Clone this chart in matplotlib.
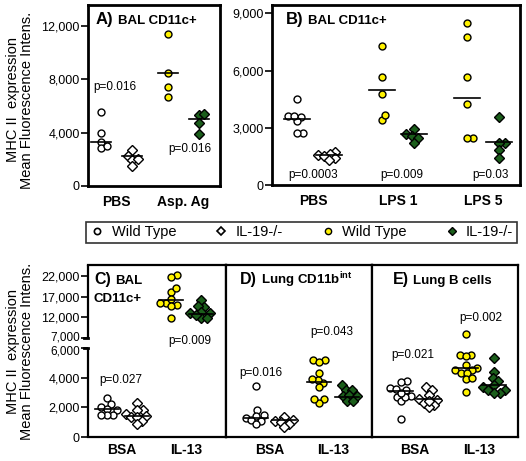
import numpy as np
import matplotlib
matplotlib.use('Agg')
import matplotlib.pyplot as plt
import matplotlib.transforms as mtransforms
from matplotlib.lines import Line2D
from matplotlib.ticker import FuncFormatter

plt.rcParams['font.family'] = ['Liberation Sans', 'DejaVu Sans']
plt.rcParams['mathtext.fontset'] = 'custom'
plt.rcParams['mathtext.rm'] = 'Liberation Sans'

W, H = 526, 461
YELLOW = '#fff200'
GREEN = '#1b5e1b'

# ---- data ----
a_groups = ['PBS', 'Asp. Ag']
a_wt = [[5550, 4000, 3300, 2850, 3000], [11380, 8500, 7400, 6700]]
a_ko = [[2700, 2250, 1950, 2000, 1500], [5320, 5400, 4750, 3870]]
a_wt_line = [3300, 8500]
a_ko_line = [2250, 5000]

b_groups = ['PBS', 'LPS 1', 'LPS 5']
b_wt = [[4490, 3580, 3620, 3350, 3620, 2710, 2710],
        [7300, 5650, 4770, 3400, 3670],
        [8480, 7780, 5680, 4250, 2450, 2450]]
b_ko = [[1750, 1650, 1570, 1500, 1400, 1300],
        [2950, 2650, 2550, 2450, 2200],
        [3580, 2220, 2220, 1830, 1430]]
b_wt_line = [3440, 4980, 4550]
b_ko_line = [1570, 2650, 2240]

c_groups = ['BSA', 'IL-13']
c_wt = [[2600, 2200, 2000, 1900, 1800, 1500, 1450, 1500],
        [22240, 21690, 18200, 19020, 15540, 16360, 14980, 15540, 14740, 11770]]
c_ko = [[2300, 1850, 1800, 1550, 1400, 1350, 1350, 1100, 850],
        [16200, 14600, 14800, 13000, 13400, 13000, 11800, 11800, 12600]]
c_wt_line = [1890, 16190]
c_ko_line = [1440, 12740]

d_groups = ['BSA', 'IL-13']
d_wt = [[3450, 1800, 1450, 1400, 1250, 1150, 1100, 900],
        [5200, 5200, 5050, 4300, 3650, 3850, 3900, 3350, 2550, 2300, 2550]]
d_ko = [[1350, 1150, 1050, 1000, 850, 650],
        [3500, 3200, 3200, 2750, 2850, 2750, 2450, 2450]]
d_wt_line = [1260, 3730]
d_ko_line = [1150, 2720]

e_groups = ['BSA', 'IL-13']
e_wt = [[3750, 3700, 3300, 3150, 3250, 2700, 2750, 2400, 2700, 1200, 3000],
        [6950, 5550, 5550, 5450, 4850, 4650, 4500, 4500, 4300, 4300, 3900, 3950, 3050]]
e_ko = [[3350, 3200, 2850, 2550, 2500, 2300, 2150, 2050, 2450],
        [5300, 4400, 3950, 3750, 3500, 3350, 3200, 3200, 3000, 3000]]
e_wt_line = [3120, 4630]
e_ko_line = [2560, 3510]

a_pvals = ['p=0.016', 'p=0.016']
b_pvals = ['p=0.0003', 'p=0.009', 'p=0.03']
c_pvals = ['p=0.027', 'p=0.009']
d_pvals = ['p=0.016', 'p=0.043']
e_pvals = ['p=0.021', 'p=0.002']

legend_labels = ['Wild Type', 'IL-19-/-', 'Wild Type', 'IL-19-/-']


# broken y scale for panel C
G = 0.674      # 6000-7000 gap
R = 0.2787     # upper part compression


def fwd(v):
    v = np.asarray(v, dtype=float)
    return np.where(v <= 6000, v,
                    np.where(v <= 7000, 6000 + (v - 6000) * G,
                             6000 + 1000 * G + (v - 7000) * R))


def inv(u):
    u = np.asarray(u, dtype=float)
    return np.where(u <= 6000, u,
                    np.where(u <= 6000 + 1000 * G, 6000 + (u - 6000) / G,
                             7000 + (u - 6000 - 1000 * G) / R))


def swarm_offsets(ypx, d):
    xs = np.zeros(len(ypx))
    placed = []
    for i in np.argsort(ypx):
        y = ypx[i]
        cands = [0.0]
        for px, py in placed:
            dy = abs(py - y)
            if dy < d:
                dx = np.sqrt(d * d - dy * dy)
                cands += [px + dx, px - dx]
        cands.sort(key=abs)
        for c in cands:
            if all((c - px) ** 2 + (y - py) ** 2 >= d * d - 1e-6 for px, py in placed):
                xs[i] = c
                break
        placed.append((xs[i], y))
    return xs


def draw_sub(ax, xc, shift, vals, line, marker, face, ms, d, halfw):
    vals = np.asarray(vals, dtype=float)
    cx, _ = ax.transData.transform((xc, vals[0]))
    cx += shift
    ypx = np.array([ax.transData.transform((xc, v))[1] for v in vals])
    xs = swarm_offsets(ypx, d)
    invt = ax.transData.inverted()
    xd = [invt.transform((cx + dx, y))[0] for dx, y in zip(xs, ypx)]
    ax.plot(xd, vals, ls='none', marker=marker, mfc=face, mec='k', ms=ms,
            mew=1.0, zorder=3, clip_on=False)
    ly = ax.transData.transform((xc, line))[1]
    x0 = invt.transform((cx - halfw, ly))[0]
    x1 = invt.transform((cx + halfw, ly))[0]
    ax.plot([x0, x1], [line, line], color='k', lw=1.2, zorder=4)


def make_axes(l, t, r, b):
    return fig.add_axes([l / W, 1 - b / H, (r - l) / W, (b - t) / H])


def ftext(x, y, s, **kw):
    return fig.text(x / W, 1 - y / H, s, **kw)


def title(x, y, letter, rest, big=12, small=9.5):
    t = ftext(x, y, letter, fontsize=big, fontweight='bold', va='baseline')
    bb = t.get_window_extent(renderer=fig.canvas.get_renderer())
    ftext(bb.x1 + 4, y, rest, fontsize=small, fontweight='bold', va='baseline')


fig = plt.figure(figsize=(W / 100, H / 100), dpi=100)

panels = [
    dict(rect=(88, 5, 220, 186), xlim=(0.571, 2.556), ylim=(0, 13575),
         ticks=[0, 4000, 8000, 12000], groups=a_groups, wt=a_wt, ko=a_ko,
         wl=a_wt_line, kl=a_ko_line, lw=2.0, pad=6.5, shift=15.5, hw=10),
    dict(rect=(272, 5, 520, 185), xlim=(0.518, 3.435), ylim=(0, 9439),
         ticks=[0, 3000, 6000, 9000], groups=b_groups, wt=b_wt, ko=b_ko,
         wl=b_wt_line, kl=b_ko_line, lw=2.0, pad=6.5, shift=16, hw=13),
    dict(rect=(88, 265, 226, 437), xlim=(0.469, 2.625), ylim=(0, 24660),
         ticks=[0, 2000, 4000, 6000, 7000, 12000, 17000, 22000], groups=c_groups,
         wt=c_wt, ko=c_ko, wl=c_wt_line, kl=c_ko_line, lw=1.6, pad=4.3, shift=15, hw=12),
    dict(rect=(226, 265, 372, 437), xlim=(0.30, 2.62), ylim=(0, 11596),
         ticks=[], groups=d_groups, wt=d_wt, ko=d_ko,
         wl=d_wt_line, kl=d_ko_line, lw=1.6, pad=4.3, shift=14, hw=12),
    dict(rect=(372, 265, 518, 437), xlim=(0.346, 2.59), ylim=(0, 11596),
         ticks=[], groups=e_groups, wt=e_wt, ko=e_ko,
         wl=e_wt_line, kl=e_ko_line, lw=1.6, pad=4.3, shift=14, hw=12),
]

axes = []
for k, p in enumerate(panels):
    ax = make_axes(*p['rect'])
    axes.append(ax)
    if k == 2:
        ax.set_yscale('function', functions=(fwd, inv))
    ax.set_xlim(*p['xlim'])
    ax.set_ylim(*p['ylim'])
    for s in ax.spines.values():
        s.set_linewidth(p['lw'])
    pos = np.arange(1, len(p['groups']) + 1)
    ax.set_xticks(pos, p['groups'], fontsize=10, fontweight='bold')
    ax.tick_params(axis='x', length=0, pad=p['pad'])
    if p['ticks']:
        ax.set_yticks(p['ticks'])
        ax.yaxis.set_major_formatter(FuncFormatter(lambda v, q: f'{v:,.0f}'))
        ax.tick_params(axis='y', length=5, width=1.2, pad=1, labelsize=9)
    else:
        ax.set_yticks([])
    for i, xc in enumerate(pos):
        filled = i > 0
        draw_sub(ax, xc, -p['shift'], p['wt'][i], p['wl'][i], 'o',
                 YELLOW if filled else 'white', 5.0, 6.0, p['hw'])
        draw_sub(ax, xc, p['shift'], p['ko'][i], p['kl'][i], 'D',
                 GREEN if filled else 'white', 5.0, 6.0, p['hw'])

# axis break on panel C
axc = axes[2]
axc.spines['left'].set_visible(False)
yt = axc.get_yaxis_transform()
axc.plot([0, 0], [0, 6000], transform=yt, color='k', lw=1.6, clip_on=False,
         solid_capstyle='butt')
axc.plot([0, 0], [7000, 24660], transform=yt, color='k', lw=1.6, clip_on=False,
         solid_capstyle='butt')
axc.plot([-0.03, 0], [6000, 6000], transform=yt, color='k', lw=2.0, clip_on=False)
axc.plot([-0.03, 0], [7000, 7000], transform=yt, color='k', lw=2.0, clip_on=False)
# nudge the two labels at the break apart
fig.canvas.draw()
for lab in axc.get_yticklabels():
    txt = lab.get_text()
    if txt in ('7,000', '6,000'):
        dy = 2.0 if txt == '7,000' else -2.0
        lab.set_transform(lab.get_transform() +
                          mtransforms.ScaledTranslation(0, dy / 100, fig.dpi_scale_trans))
        lab.set_fontsize(8.5)

# titles
title(96, 24, 'A)', 'BAL CD11c+')
title(286, 24, 'B)', 'BAL CD11c+')
title(94, 284, 'C)', 'BAL', big=11.5)
ftext(93, 301.5, 'CD11c+', fontsize=9.5, fontweight='bold', va='baseline')
title(240, 284, 'D)', r'Lung CD11b$^{\mathregular{int}}$', big=11.5)
title(393, 284, 'E)', 'Lung B cells', big=11.5)

# p-values
pv_pos = [(115, 87), (190, 149), (313, 175), (401.7, 175), (490, 175),
          (121, 380), (190, 341), (261, 372.7), (331.7, 331.7), (413, 355), (481, 318.3)]
for (x, y), s in zip(pv_pos, a_pvals + b_pvals + c_pvals + d_pvals + e_pvals):
    ftext(x, y, s, fontsize=8.5, ha='center', va='center')

# y labels
for yc in (100, 351):
    ftext(13, yc, 'MHC II  expression', fontsize=10.5, rotation=90, ha='center', va='center')
    ftext(27, yc, 'Mean Fluorescence Intens.', fontsize=10.5, rotation=90,
          ha='center', va='center')

# legend
handles = [
    Line2D([], [], ls='none', marker='o', mfc='white', mec='k', ms=4.5, mew=1.2),
    Line2D([], [], ls='none', marker='D', mfc='white', mec='k', ms=4, mew=1.2),
    Line2D([], [], ls='none', marker='o', mfc=YELLOW, mec='k', ms=4.5, mew=1.0),
    Line2D([], [], ls='none', marker='D', mfc=GREEN, mec='k', ms=4, mew=1.0),
]
leg = fig.legend(handles, legend_labels, loc='lower left',
                 bbox_to_anchor=(86 / W, 1 - 243 / H, 431 / W, 22 / H),
                 mode='expand', ncol=4, frameon=True, fancybox=False,
                 edgecolor='k', fontsize=10.5, handlelength=1.0,
                 handletextpad=0.5, borderaxespad=0, borderpad=0.25)
leg.get_frame().set_linewidth(1.2)

fig.savefig('out.png', dpi=100)
